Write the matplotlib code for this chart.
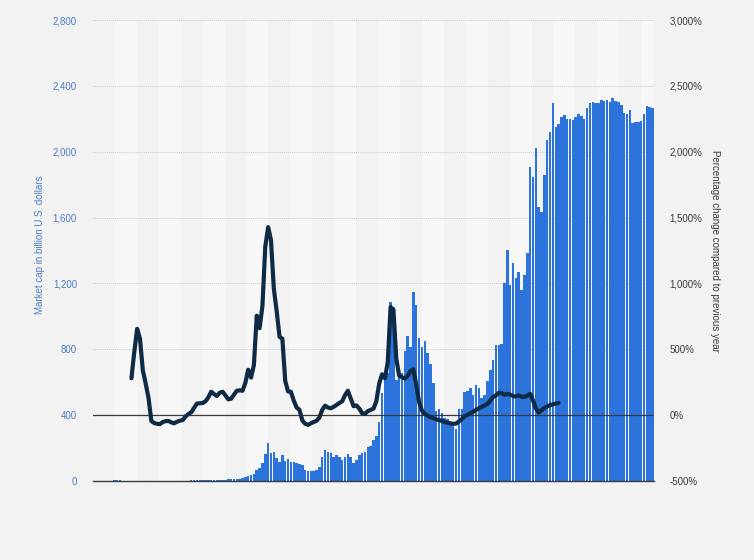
import matplotlib
matplotlib.use('Agg')
import matplotlib.pyplot as plt
import numpy as np

# market cap per month, billion U.S. dollars
market_cap = [
    2, 2, 2, 2, 2, 2, 2, 6, 7, 6,
    3, 3, 2, 2, 2, 2, 2, 2, 2, 2, 2, 2, 2, 2, 2, 3, 3, 3, 3, 3, 3, 3, 3, 3, 4, 4, 4, 4, 4, 4, 5,
    5, 6, 6, 7, 8, 8, 10, 11, 12, 13, 15, 18,
    24, 30, 36, 43, 67, 79, 109,
    164, 231, 170, 176, 140, 117, 158, 123, 132, 117, 115, 110, 103, 97, 67, 61, 61, 63, 67, 85,
    146, 188, 176, 170, 146, 158, 146, 128, 146, 164,
    146, 109, 130, 158, 170, 176, 207, 213, 249, 273,
    358, 535, 613, 656, 1087, 1057, 613, 632, 656, 790,
    880, 814, 1148, 1069, 869, 814, 850, 777, 710, 595,
    425, 437, 413, 383, 377, 352, 334, 316, 437, 437,
    540, 547, 565, 522, 583, 565, 504, 522, 607, 674,
    735, 826, 826, 832, 1203, 1403, 1190, 1324, 1233, 1270,
    1160, 1251, 1385, 1907, 1847, 2023, 1664, 1634, 1859, 2071,
    2120, 2296, 2150, 2168, 2211, 2223, 2199, 2199, 2193, 2211,
    2229, 2217, 2199, 2266, 2296, 2302, 2296, 2296, 2314, 2308,
    2314, 2302, 2326, 2308, 2302, 2284, 2235, 2229, 2253, 2175,
    2181, 2181, 2187, 2229, 2278, 2272, 2266,
]

# percentage change compared to previous year, starts at month 13
yoy_start = 13
yoy_change = [
    280, 480, 655, 580, 340, 240, 130, -45, -60, -66,
    -68, -52, -46, -44, -55, -62, -50, -42, -38, -10,
    8, 22, 55, 88, 90, 92, 105, 135, 178, 160,
    145, 170, 178, 150, 120, 125, 155, 185, 188, 185,
    245, 345, 285, 380, 755, 660, 830, 1280, 1427, 1330,
    960, 790, 595, 580, 260, 180, 177, 110, 58, 40,
    -40, -65, -74, -62, -52, -43, -18, 40, 72, 58,
    52, 63, 78, 92, 105, 152, 185, 126, 68, 74,
    50, 15, 10, 30, 40, 50, 105, 240, 310, 280,
    400, 820, 800, 430, 300, 288, 278, 298, 335, 348,
    230, 100, 35, 10, -3, -15, -22, -32, -38, -44,
    -52, -58, -62, -66, -64, -48, -30, -8, 2, 15,
    25, 40, 52, 62, 72, 85, 110, 138, 150, 170,
    168, 153, 162, 156, 145, 142, 150, 140, 139, 148,
    162, 112, 52, 20, 38, 55, 66, 76, 82, 88,
    93,
]

left_ticks = [0, 400, 800, 1200, 1600, 2000, 2400, 2800]
right_ticks = [-500, 0, 500, 1000, 1500, 2000, 2500, 3000]

plt.rcParams['font.family'] = ['Liberation Sans', 'DejaVu Sans']

bg = '#f2f2f2'
bar_color = '#2c74dc'
line_color = '#0f2a44'
blue_text = '#4a7fc1'
grey_text = '#3a3a3a'

fig = plt.figure(figsize=(7.54, 5.6), dpi=100, facecolor=bg)
ax = fig.add_axes([93 / 754, 1 - 481 / 560, (654 - 93) / 754, (481 - 20) / 560])
ax.set_facecolor('#f7f7f7')

n = len(market_cap)
x = np.arange(n)
ax.set_xlim(-0.5, n - 0.5)
ax.set_ylim(0, 2800)

# faint vertical background bands
band = 7.7
edges = np.arange(-0.5, n + band, band)
for k in range(0, len(edges) - 1, 2):
    ax.axvspan(edges[k], edges[k + 1], color='#f2f2f2', lw=0, zorder=0)

ax.set_yticks(left_ticks)
ax.set_yticklabels([f'{v:,}' for v in left_ticks])
ax.grid(axis='y', color='#c8c8c8', linestyle=(0, (1, 1)), linewidth=0.7, zorder=1)
ax.set_axisbelow(True)
ax.bar(x, market_cap, width=0.88, color=bar_color, zorder=2)

for s in ['top', 'left', 'right']:
    ax.spines[s].set_visible(False)
ax.spines['bottom'].set_color(grey_text)
ax.spines['bottom'].set_linewidth(1.0)
ax.set_xticks([])
ax.tick_params(axis='y', length=0, pad=11.5, labelsize=7, labelcolor=blue_text)
ax.set_ylabel('Market cap in billion U.S. dollars', color=blue_text, fontsize=7,
              va='center')
ax.yaxis.set_label_coords((40 - 93) / 561, 0.5 + 6 / 461)

ax2 = ax.twinx()
ax2.set_ylim(-500, 3000)
ax2.set_yticks(right_ticks)
ax2.set_yticklabels([f'{v:,}%' for v in right_ticks])
ax2.tick_params(axis='y', length=0, pad=11, labelsize=7, labelcolor=grey_text)
for s in ['top', 'left', 'right', 'bottom']:
    ax2.spines[s].set_visible(False)
ax2.axhline(0, color=grey_text, lw=0.9, zorder=3)
xl = np.arange(yoy_start, yoy_start + len(yoy_change))
ax2.plot(xl, yoy_change, color=line_color, lw=3.0, solid_joinstyle='round',
         solid_capstyle='round', zorder=4)
ax2.set_ylabel('Percentage change compared to previous year', color=grey_text,
               fontsize=7, rotation=270, va='center')
ax2.yaxis.set_label_coords((715 - 93) / 561, 0.5)

fig.savefig('out.png', dpi=100, facecolor=bg)
